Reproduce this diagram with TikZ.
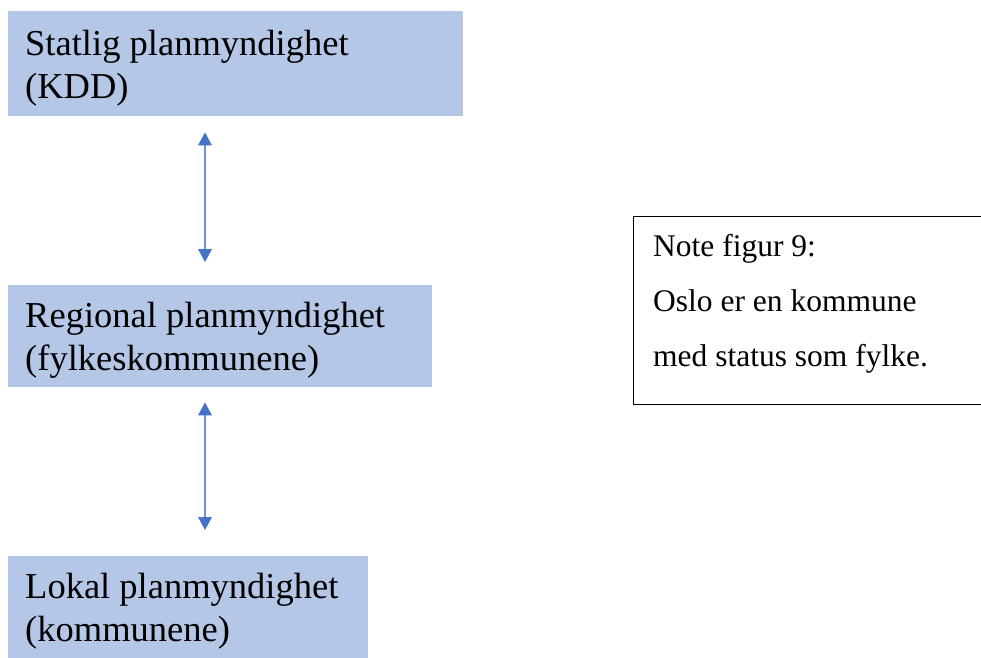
\documentclass[tikz,border=0pt]{standalone}
\usepackage{fontspec}
\setmainfont{Liberation Serif}
\usetikzlibrary{arrows.meta}
\definecolor{boxblue}{HTML}{B4C7E7}
\definecolor{arrowblue}{HTML}{4472C4}
\definecolor{linkline}{HTML}{6F93D3}
\tikzset{
  levelbox/.style={fill=boxblue, draw=none, rectangle, anchor=north west, inner sep=0pt},
  leveltext/.style={anchor=base west, inner sep=0pt, font=\fontsize{36.5}{43}\selectfont},
  notetext/.style={anchor=base west, inner sep=0pt, font=\fontsize{31.5}{55}\selectfont},
  notebox/.style={draw=black, line width=1pt, rectangle, anchor=north west, inner sep=0pt},
  link/.style={draw=linkline, line width=1.4pt,
    {Triangle[width=14pt,length=13pt,color=arrowblue,line width=0pt]}-{Triangle[width=14pt,length=13pt,color=arrowblue,line width=0pt]}}
}
\begin{document}
\begin{tikzpicture}[x=1pt,y=-1pt]
  \useasboundingbox (0,0) rectangle (981,657);

  % planning levels
  \node[levelbox, minimum width=455pt, minimum height=105pt] (b1) at (8,11) {};
  \node[levelbox, minimum width=424pt, minimum height=102pt] (b2) at (8,285) {};
  \node[levelbox, minimum width=360pt, minimum height=102pt] (b3) at (8,556) {};

  \node[leveltext] (t1a) at (25,55) {Statlig planmyndighet};
  \node[leveltext] (t1b) at (25,98) {(KDD)};
  \node[leveltext] (t2a) at (25,327) {Regional planmyndighet};
  \node[leveltext] (t2b) at (25,370) {(fylkeskommunene)};
  \node[leveltext] (t3a) at (25,598) {Lokal planmyndighet};
  \node[leveltext] (t3b) at (25,641) {(kommunene)};

  % two-way links between levels
  \draw[link, shorten <=16pt, shorten >=23pt]
    ([xshift=197pt]b1.south west) -- ([xshift=197pt]b2.north west);
  \draw[link, shorten <=15pt, shorten >=26pt]
    ([xshift=197pt]b2.south west) -- ([xshift=197pt]b3.north west);

  % side note
  \node[notebox, minimum width=348pt, minimum height=188pt] (note) at (632.5,216) {};
  \node[notetext] (n1) at (653,256) {Note figur 9:};
  \node[notetext] (n2) at (653,311) {Oslo er en kommune};
  \node[notetext] (n3) at (653,366) {med status som fylke.};
\end{tikzpicture}
\end{document}
